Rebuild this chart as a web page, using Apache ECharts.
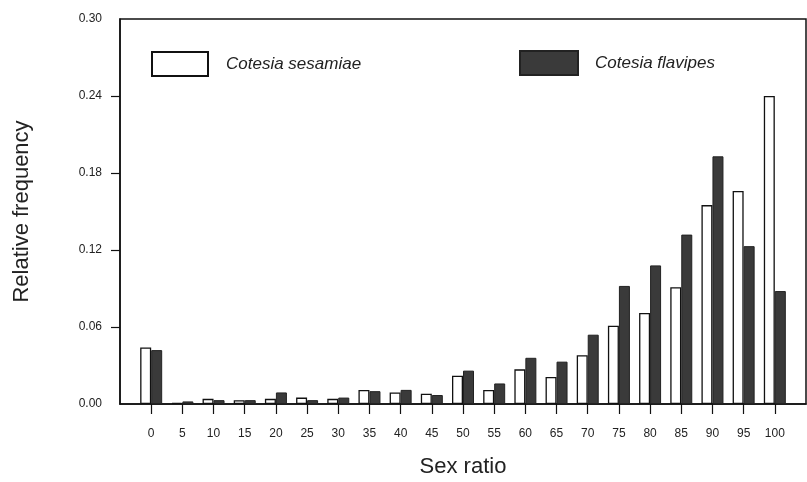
<!DOCTYPE html>
<html>
<head>
<meta charset="utf-8">
<script src="https://cdn.jsdelivr.net/npm/echarts@6/dist/echarts.min.js"></script>
<style>
  html, body { margin: 0; padding: 0; background: #fff; }
  #chart { width: 807px; height: 482px; }
</style>
</head>
<body>
<div id="chart"></div>
<script>
// sex ratio classes (x axis)
const ratioTicks = [0, 5, 10, 15, 20, 25, 30, 35, 40, 45, 50, 55, 60, 65, 70, 75, 80, 85, 90, 95, 100]
// inner y ticks (the 0 and 0.30 ones sit on the frame)
const freqTicks = [0.06, 0.12, 0.18, 0.24]
// relative frequency
const sesamiae = [0.044, 0.001, 0.004, 0.003, 0.004, 0.005, 0.004, 0.011, 0.009, 0.008, 0.022, 0.011, 0.027, 0.021, 0.038, 0.061, 0.071, 0.091, 0.155, 0.166, 0.240]
const flavipes = [0.042, 0.002, 0.003, 0.003, 0.009, 0.003, 0.005, 0.010, 0.011, 0.007, 0.026, 0.016, 0.036, 0.033, 0.054, 0.092, 0.108, 0.132, 0.193, 0.123, 0.088]

const tickFont = "'Liberation Sans Narrow', 'Liberation Sans', Arial, sans-serif"
const titleFont = "'Liberation Sans', Arial, sans-serif"

const chart = echarts.init(document.getElementById('chart'), null, { renderer: 'canvas' })

let option = {
  animation: false,
  backgroundColor: '#fff',
  grid: {
    left: 120,
    right: 1,
    top: 19,
    bottom: 78,
    outerBoundsMode: 'none',
    show: true,
    borderColor: '#111',
    borderWidth: 1.5
  },
  legend: [
    {
      left: 146,
      top: 46,
      icon: 'rect',
      itemWidth: 56,
      itemHeight: 24,
      data: ['Cotesia sesamiae'],
      textStyle: { fontFamily: titleFont, fontStyle: 'italic', fontSize: 17, color: '#222', padding: [0, 0, 0, 13] }
    },
    {
      left: 514,
      top: 45,
      icon: 'rect',
      itemWidth: 58,
      itemHeight: 24,
      data: ['Cotesia flavipes'],
      textStyle: { fontFamily: titleFont, fontStyle: 'italic', fontSize: 17, color: '#222', padding: [0, 0, 0, 12] }
    }
  ],
  xAxis: {
    type: 'value',
    min: -5,
    max: 105,
    interval: 5,
    name: 'Sex ratio',
    nameLocation: 'middle',
    nameGap: 52,
    nameTextStyle: { fontFamily: titleFont, fontSize: 22, color: '#222' },
    axisLine: { show: true, onZero: false, lineStyle: { color: '#111', width: 1.5 } },
    axisTick: { show: true, customValues: ratioTicks, length: 10, lineStyle: { color: '#111', width: 1.2 } },
    axisLabel: {
      customValues: ratioTicks,
      margin: 24,
      fontFamily: tickFont,
      fontSize: 12,
      color: '#222'
    },
    splitLine: { show: false }
  },
  yAxis: {
    type: 'value',
    min: 0,
    max: 0.30,
    interval: 0.06,
    name: 'Relative frequency',
    nameLocation: 'middle',
    nameGap: 87,
    nameTextStyle: { fontFamily: titleFont, fontSize: 22, color: '#222' },
    axisLine: { show: true, onZero: false, lineStyle: { color: '#111', width: 1.5 } },
    axisTick: { show: true, customValues: freqTicks, length: 9, lineStyle: { color: '#111', width: 1.2 } },
    axisLabel: {
      margin: 18,
      fontFamily: tickFont,
      fontSize: 12,
      color: '#222',
      formatter: v => v.toFixed(2)
    },
    splitLine: { show: false }
  },
  series: [
    {
      name: 'Cotesia sesamiae',
      type: 'bar',
      barWidth: 11,
      barGap: 0,
      itemStyle: { color: '#fff', borderColor: '#111', borderWidth: 1.3 },
      data: ratioTicks.map((r, i) => [r, sesamiae[i]])
    },
    {
      name: 'Cotesia flavipes',
      type: 'bar',
      barWidth: 11,
      barGap: 0,
      itemStyle: { color: '#3a3a3a', borderColor: '#222', borderWidth: 1 },
      data: ratioTicks.map((r, i) => [r, flavipes[i]])
    }
  ]
}

chart.setOption(option)
</script>
</body>
</html>
